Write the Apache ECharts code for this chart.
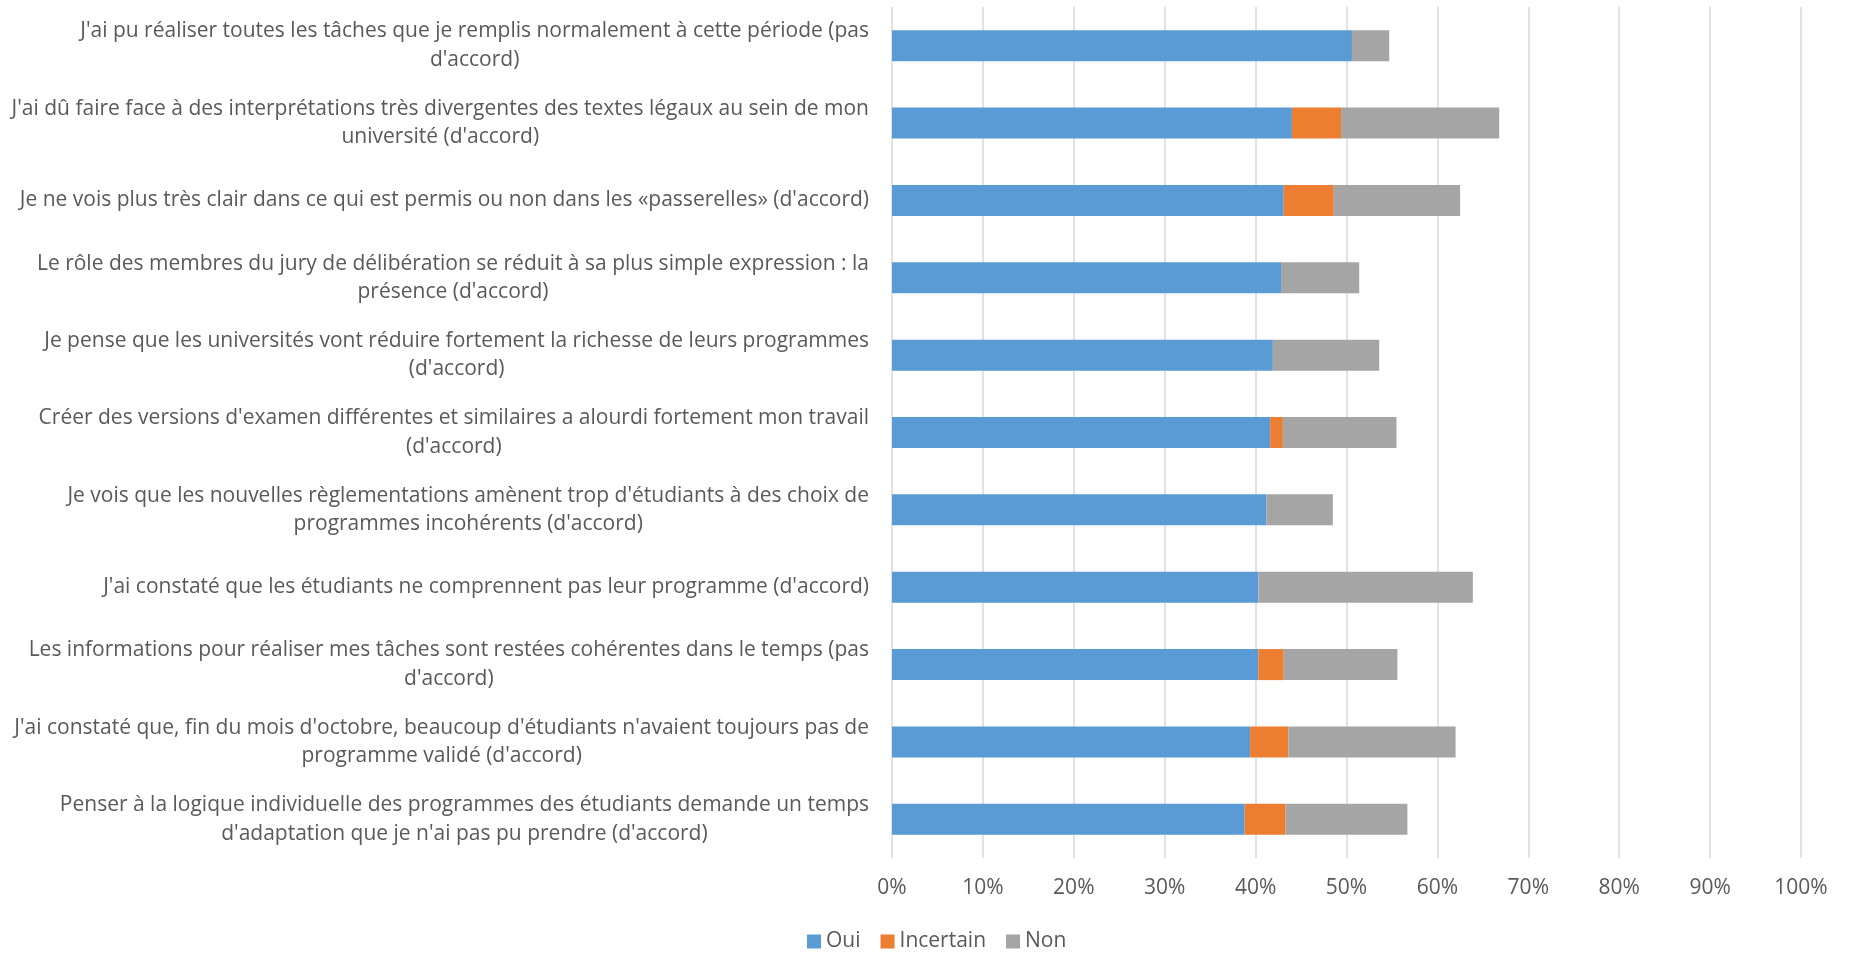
<!DOCTYPE html>
<html>
<head>
<meta charset="utf-8">
<script src="https://cdn.jsdelivr.net/npm/echarts@6/dist/echarts.min.js"></script>
<style>
  html, body { margin: 0; padding: 0; background: #ffffff; }
  #chart { width: 1851px; height: 953px; }
</style>
</head>
<body>
<div id="chart"></div>
<script>
const categories = [
  "J'ai pu réaliser toutes les tâches que je remplis normalement à cette période (pas\nd'accord)",
  "J'ai dû faire face à des interprétations très divergentes des textes légaux au sein de mon\nuniversité (d'accord)",
  "Je ne vois plus très clair dans ce qui est permis ou non dans les «passerelles» (d'accord)",
  "Le rôle des membres du jury de délibération se réduit à sa plus simple expression : la\nprésence (d'accord)",
  "Je pense que les universités vont réduire fortement la richesse de leurs programmes\n(d'accord)",
  "Créer des versions d'examen différentes et similaires a alourdi fortement mon travail\n(d'accord)",
  "Je vois que les nouvelles règlementations amènent trop d'étudiants à des choix de\nprogrammes incohérents (d'accord)",
  "J'ai constaté que les étudiants ne comprennent pas leur programme (d'accord)",
  "Les informations pour réaliser mes tâches sont restées cohérentes dans le temps (pas\nd'accord)",
  "J'ai constaté que, fin du mois d'octobre, beaucoup d'étudiants n'avaient toujours pas de\nprogramme validé (d'accord)",
  "Penser à la logique individuelle des programmes des étudiants demande un temps\nd'adaptation que je n'ai pas pu prendre (d'accord)"
];
const seriesNames = ["Oui", "Incertain", "Non"];
const oui       = [50.6, 44.0, 43.1, 42.8, 41.9, 41.6, 41.2, 40.3, 40.3, 39.4, 38.8];
const incertain = [0,    5.4,  5.5,  0,    0,    1.4,  0,    0,    2.8,  4.2,  4.5];
const non       = [4.1,  17.4, 13.9, 8.6,  11.7, 12.5, 7.3,  23.6, 12.5, 18.4, 13.4];
const xTicks = { min: 0, max: 100, interval: 10 };

const colors = ["#5B9BD5", "#ED7D31", "#A5A5A5"];
const FONT = "'Open Sans'";
const FS = 21;

const chart = echarts.init(document.getElementById('chart'), null, { renderer: 'canvas' });
const values = [oui, incertain, non];

chart.setOption({
  animation: false,
  backgroundColor: '#ffffff',
  textStyle: { fontFamily: FONT },
  color: colors,
  grid: { left: 892, width: 909, top: 7, height: 851, containLabel: false },
  legend: {
    data: seriesNames,
    top: 926,
    left: 802,
    itemWidth: 14,
    itemHeight: 14,
    itemGap: 20,
    icon: 'rect',
    textStyle: { fontFamily: FONT, fontSize: FS, color: '#595959' }
  },
  xAxis: {
    type: 'value',
    min: xTicks.min,
    max: xTicks.max,
    interval: xTicks.interval,
    axisLine: { show: false },
    axisTick: { show: false },
    splitLine: { show: true, lineStyle: { color: '#D9D9D9', width: 1.5 } },
    axisLabel: {
      formatter: '{value}%',
      margin: 20,
      fontFamily: FONT,
      fontSize: FS,
      color: '#595959'
    }
  },
  yAxis: {
    type: 'category',
    inverse: true,
    data: categories,
    axisLine: { show: false },
    axisTick: { show: false },
    splitLine: { show: false },
    axisLabel: {
      margin: 23,
      align: 'right',
      interval: 0,
      formatter: function (v) {
        return v.split('\n').map(function (l) { return '{c|' + l + '}'; }).join('\n');
      },
      rich: {
        c: {
          align: 'center',
          fontFamily: FONT,
          fontSize: FS,
          lineHeight: 28.5,
          color: '#595959'
        }
      }
    }
  },
  series: seriesNames.map(function (name, i) {
    return {
      name: name,
      type: 'bar',
      stack: 'total',
      barWidth: 31,
      data: values[i],
      itemStyle: { color: colors[i] }
    };
  })
});
</script>
</body>
</html>
